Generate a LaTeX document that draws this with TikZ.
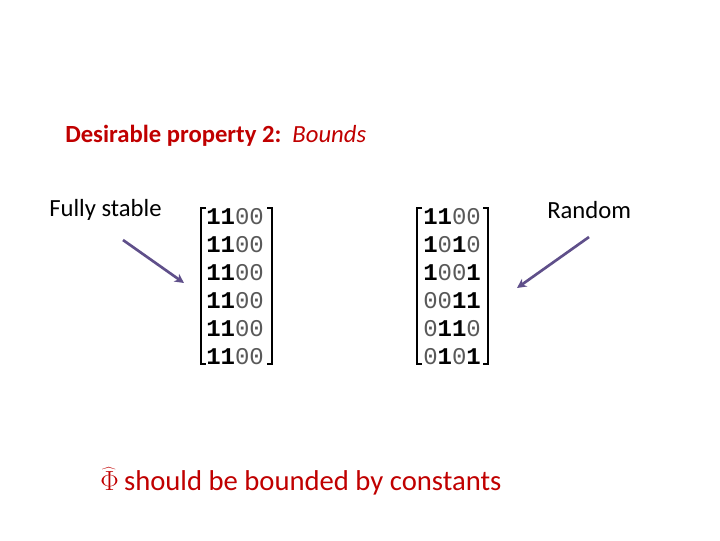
\documentclass[tikz,border=0pt]{standalone}
\usepackage{fontspec}
\setmainfont{Carlito}
\newfontfamily\mono{Liberation Mono}
\usetikzlibrary{arrows.meta}
\definecolor{redt}{HTML}{C00000}
\definecolor{arr}{HTML}{5F4F8A}
\newcommand{\oo}{\textcolor{black!65}{0}}
\newcommand{\ii}{\textbf{1}}
\tikzset{lbl/.style={anchor=west,inner sep=0pt,font=\fontsize{18.5}{22}\selectfont},
 row/.style={anchor=west,inner sep=0pt,font=\mono\fontsize{18}{20}\selectfont},
 brk/.style={line width=1.3pt},
 pt/.style={draw=arr,line width=2pt,-{Stealth[length=7pt,width=7pt]}}}
\begin{document}
\begin{tikzpicture}[x=0.75pt,y=-0.75pt]
\useasboundingbox (0,0) rectangle (720,540);
\node[lbl,text=redt] (t) at (65,136) {\textbf{Desirable property 2:}\ \ \textit{Bounds}};
\node[lbl] (fs) at (49,210) {Fully stable};
\node[lbl] (rd) at (547,210) {Random};
\foreach \r/\t in {1/\ii\ii\oo\oo,2/\ii\ii\oo\oo,3/\ii\ii\oo\oo,4/\ii\ii\oo\oo,5/\ii\ii\oo\oo,6/\ii\ii\oo\oo}
  \node[row] (l\r) at (206,{189+28*\r}) {\t};
\foreach \r/\t in {1/\ii\ii\oo\oo,2/\ii\oo\ii\oo,3/\ii\oo\oo\ii,4/\oo\oo\ii\ii,5/\oo\ii\ii\oo,6/\oo\ii\oo\ii}
  \node[row] (r\r) at (423,{189+28*\r}) {\t};
\draw[brk] (206,208)--(201,208)--(201,364)--(206,364);
\draw[brk] (267,208)--(272,208)--(272,364)--(267,364);
\draw[brk] (422,208)--(417,208)--(417,364)--(422,364);
\draw[brk] (483,208)--(488,208)--(488,364)--(483,364);
\coordinate (a1) at (123,240); \coordinate (a2) at (184,283);
\coordinate (b1) at (589,237); \coordinate (b2) at (517,288);
\draw[pt] (a1)--(a2);
\draw[pt] (b1)--(b2);
\node[lbl,text=redt,font=\fontsize{21.5}{26}\selectfont] (bt) at (100,481) {$\widehat{\Phi}$\hspace{4pt}should be bounded by constants};
\end{tikzpicture}
\end{document}
